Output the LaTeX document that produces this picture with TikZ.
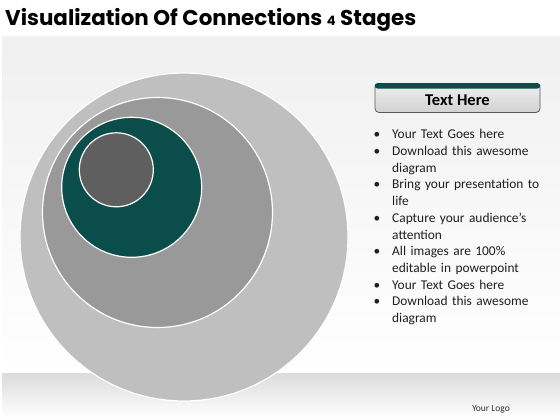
\documentclass[tikz,border=0pt]{standalone}
\usepackage{fontspec}
\setmainfont{Carlito}
\newfontfamily\titlefont{Poppins}
\usepackage{enumitem}
\usepackage{xcolor}

\definecolor{RingLight}{HTML}{BFBFBF}
\definecolor{RingMid}{HTML}{999999}
\definecolor{RingTeal}{HTML}{0B4D4A}
\definecolor{RingDark}{HTML}{5F5F5F}
\definecolor{BodyText}{HTML}{1F1F1F}

\tikzset{
	ring/.style={draw=white, line width=1.2pt, circle, inner sep=0pt},
}

\begin{document}
\begin{tikzpicture}[x=1pt, y=-1pt]
	\path[use as bounding box, fill=white] (0,0) rectangle (560,420);

	\fill[top color=black!6, bottom color=white] (2,37) rectangle (560,372);
	\fill[top color=black!14, bottom color=white] (2,373) rectangle (560,418);

	\node[anchor=base west, inner sep=0pt, font=\titlefont\bfseries\fontsize{21.4}{24}\selectfont] (title) at (5,26)
		{Visualization Of Connections {\fontsize{13}{14}\selectfont 4} Stages};

	\node[ring, minimum size=328pt, fill=RingLight] (outer) at (184,237) {};
	\node[ring, minimum size=230pt, fill=RingMid] (second) at (157.5,212.5) {};
	\node[ring, minimum size=140pt, fill=RingTeal] (third) at (131.7,187.3) {};
	\node[ring, minimum size=74pt, fill=RingDark] (inner) at (116.3,169.8) {};

	\node[draw=black!65, line width=0.8pt, rounded corners=4pt, top color=black!6, bottom color=black!18,
		minimum width=165pt, minimum height=29pt, inner sep=0pt] (header) at (457.5,98) {};
	\fill[RingTeal, rounded corners=3pt] (header.north west) rectangle ([yshift=-5.5pt]header.north east);
	\node[font=\bfseries\fontsize{16.5}{18}\selectfont, text=black] (headtext) at ([yshift=-2pt]header.center) {Text Here};

	\node[anchor=north west, inner sep=0pt, text width=175pt, text=BodyText,
		font=\fontsize{13.4}{16.7}\selectfont] (bullets) at (372,122) {%
		\begin{itemize}[leftmargin=20pt, labelsep=12pt, itemsep=0pt, topsep=0pt, parsep=0pt, partopsep=0pt]
			\item Your Text Goes here
			\item Download this awesome diagram
			\item Bring your presentation to life
			\item Capture your audience’s attention
			\item All images are 100\% editable in powerpoint
			\item Your Text Goes here
			\item Download this awesome diagram
		\end{itemize}};

	\node[anchor=base east, inner sep=0pt, text=black!80, font=\fontsize{9.5}{11}\selectfont] (logo) at (510,411) {Your Logo};
\end{tikzpicture}
\end{document}
